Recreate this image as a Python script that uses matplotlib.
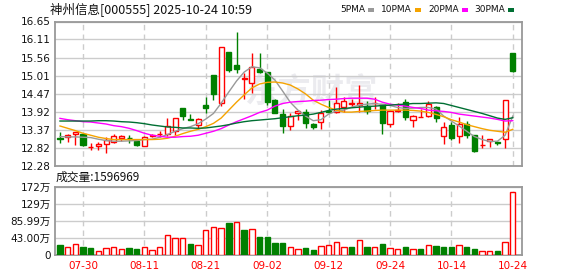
import matplotlib
matplotlib.use("Agg")
import matplotlib.pyplot as plt
from matplotlib.patches import Rectangle

plt.rcParams['font.family'] = ['DejaVu Sans', 'Noto Sans CJK SC']

title = "神州信息[000555] 2025-10-24 10:59"
vol_title = "成交量:1596969"

dates = ["07-25", "07-28", "07-29", "07-30", "07-31", "08-01", "08-04", "08-05",
         "08-06", "08-07", "08-08", "08-11", "08-12", "08-13", "08-14", "08-15",
         "08-18", "08-19", "08-20", "08-21", "08-22", "08-25", "08-26", "08-27",
         "08-28", "08-29", "09-01", "09-02", "09-03", "09-04", "09-05", "09-08",
         "09-09", "09-10", "09-11", "09-12", "09-15", "09-16", "09-17", "09-18",
         "09-19", "09-22", "09-23", "09-24", "09-25", "09-26", "09-29", "09-30",
         "10-09", "10-10", "10-13", "10-14", "10-15", "10-16", "10-17", "10-20",
         "10-21", "10-22", "10-23", "10-24"]
shown_dates = ["07-30", "08-11", "08-21", "09-02", "09-12", "09-24", "10-14", "10-24"]

opens = [13.12, 13.15, 13.24, 13.26, 12.84, 12.89, 12.96, 13.02, 13.13, 13.13,
         13.03, 12.89, 13.19, 13.24, 13.26, 13.33, 14.03, 13.70, 13.52, 14.11,
         15.03, 14.20, 15.73, 15.33, 14.92, 14.80, 15.21, 15.12, 14.27, 13.84,
         13.49, 13.89, 13.91, 13.54, 13.60, 13.95, 13.92, 14.07, 14.17, 14.12,
         14.09, 14.18, 14.17, 13.54, 13.95, 14.23, 13.67, 13.77, 13.79, 14.05,
         13.18, 13.51, 13.18, 13.55, 13.21, 12.91, 13.04, 13.00, 13.11, 15.70]
highs = [13.31, 13.26, 13.31, 13.28, 12.99, 13.00, 13.17, 13.24, 13.22, 13.21,
         13.03, 13.19, 13.24, 13.35, 13.73, 13.73, 14.03, 13.84, 13.73, 14.36,
         15.03, 15.88, 15.73, 16.32, 15.08, 15.71, 15.71, 15.12, 14.30, 13.99,
         13.87, 13.97, 13.99, 13.58, 13.97, 14.27, 14.68, 14.37, 14.32, 14.73,
         14.24, 14.37, 14.17, 13.97, 14.19, 14.30, 13.82, 14.00, 14.24, 14.08,
         13.62, 13.62, 13.77, 13.64, 13.21, 13.21, 13.11, 13.04, 14.27, 15.70]
lows = [12.98, 13.01, 12.91, 12.88, 12.76, 12.76, 12.67, 12.99, 13.04, 12.99,
        12.88, 12.89, 13.15, 13.16, 13.18, 13.23, 13.67, 13.66, 13.39, 13.88,
        14.27, 14.10, 15.13, 15.10, 14.30, 14.50, 15.08, 14.13, 13.88, 13.28,
        13.36, 13.67, 13.44, 13.41, 13.40, 13.87, 13.89, 13.92, 14.07, 13.92,
        13.85, 13.99, 13.26, 13.45, 13.92, 13.66, 13.45, 13.76, 13.76, 13.61,
        12.94, 13.06, 12.98, 13.14, 12.70, 12.81, 12.86, 12.90, 12.81, 15.11]
closes = [13.10, 13.23, 13.30, 12.93, 12.85, 12.94, 13.06, 13.18, 13.19, 13.12,
          12.91, 13.15, 13.23, 13.25, 13.50, 13.72, 13.80, 13.68, 13.69, 14.03,
          14.46, 15.87, 15.18, 15.21, 14.93, 15.27, 15.11, 14.22, 13.89, 13.48,
          13.80, 13.95, 13.57, 13.46, 13.89, 13.91, 14.19, 14.24, 14.18, 14.19,
          13.95, 14.19, 13.57, 13.95, 13.97, 13.75, 13.78, 13.77, 14.17, 13.72,
          13.45, 13.13, 13.55, 13.23, 12.74, 12.92, 13.10, 12.98, 14.27, 15.16]
prev_close = 13.18

ma5 = [13.17, 13.16, 13.16, 13.15, 13.14, 13.09, 13.05, 13.03, 13.03, 13.04,
       13.05, 13.08, 13.09, 13.15, 13.23, 13.33, 13.41, 13.47, 13.56, 13.70,
       13.87, 14.18, 14.52, 14.85, 15.12, 15.28, 15.25, 15.09, 14.88, 14.55,
       14.21, 13.97, 13.79, 13.65, 13.68, 13.85, 13.94, 13.97, 14.06, 14.12,
       14.15, 14.17, 14.14, 14.11, 14.05, 14.02, 14.03, 14.05, 14.05, 14.00,
       13.79, 13.64, 13.49, 13.33, 13.17, 13.08, 13.02, 13.03, 13.21, 13.79]
ma10 = [13.49, 13.42, 13.35, 13.27, 13.21, 13.15, 13.11, 13.08, 13.08, 13.08,
        13.08, 13.08, 13.08, 13.09, 13.12, 13.18, 13.26, 13.33, 13.39, 13.47,
        13.57, 13.73, 13.97, 14.21, 14.43, 14.64, 14.76, 14.81, 14.82, 14.79,
        14.73, 14.61, 14.46, 14.27, 14.15, 14.05, 13.97, 13.91, 13.91, 13.93,
        13.94, 13.96, 13.97, 13.97, 13.97, 13.97, 13.96, 13.94, 13.90, 13.84,
        13.77, 13.68, 13.61, 13.53, 13.47, 13.41, 13.36, 13.33, 13.30, 13.39]
ma20 = [13.72, 13.68, 13.65, 13.62, 13.61, 13.58, 13.55, 13.50, 13.47, 13.42,
        13.35, 13.27, 13.21, 13.18, 13.15, 13.15, 13.17, 13.18, 13.21, 13.27,
        13.33, 13.41, 13.52, 13.62, 13.71, 13.80, 13.90, 13.97, 14.09, 14.17,
        14.21, 14.23, 14.24, 14.26, 14.27, 14.29, 14.30, 14.32, 14.33, 14.33,
        14.33, 14.30, 14.21, 14.15, 14.12, 14.09, 14.05, 14.02, 13.97, 13.95,
        13.93, 13.90, 13.85, 13.82, 13.79, 13.76, 13.73, 13.69, 13.64, 13.65]
ma30 = [13.64, 13.64, 13.64, 13.64, 13.64, 13.65, 13.65, 13.64, 13.62, 13.61,
        13.59, 13.56, 13.52, 13.49, 13.46, 13.45, 13.43, 13.43, 13.42, 13.43,
        13.46, 13.49, 13.53, 13.58, 13.62, 13.65, 13.67, 13.69, 13.71, 13.74,
        13.77, 13.80, 13.82, 13.85, 13.90, 13.96, 14.00, 14.02, 14.04, 14.06,
        14.08, 14.09, 14.11, 14.12, 14.14, 14.15, 14.17, 14.17, 14.18, 14.19,
        14.17, 14.11, 14.05, 13.99, 13.93, 13.87, 13.80, 13.73, 13.69, 13.74]

# volume in 万
volume = [24.9, 21.5, 29.0, 19.9, 17.4, 11.6, 19.1, 21.5, 16.6, 17.4,
          14.9, 21.5, 14.1, 21.5, 51.4, 43.9, 43.9, 29.0, 26.5, 63.8,
          71.3, 68.8, 82.0, 83.7, 64.6, 66.3, 44.7, 44.7, 29.8, 29.8,
          21.5, 16.6, 17.4, 12.4, 24.0, 26.5, 34.0, 21.5, 19.9, 39.0,
          19.9, 21.5, 27.3, 19.1, 16.6, 19.9, 16.6, 14.9, 25.7, 22.4,
          19.9, 19.9, 25.7, 19.9, 14.9, 11.6, 11.6, 9.9, 34.0, 159.7]

price_ticks = [12.28, 12.82, 13.37, 13.92, 14.47, 15.01, 15.56, 16.11, 16.65]
vol_ticks = [0, 43.00, 85.99, 129, 172]
vol_labels = ["0", "43.00万", "85.99万", "129万", "172万"]

ma_names = ["5PMA", "10PMA", "20PMA", "30PMA"]

RED = "#ff0000"
GREEN = "#008000"
ma_colors = ["#999999", "#f5a300", "#ff00ff", "#006f33"]
GRID = "#cccccc"
FRAME = "#999999"
TXT = "#111111"

W, H = 578, 276


def fx(x):
    return x / W


def fy(y):
    return 1 - y / H


fig = plt.figure(figsize=(W / 100, H / 100), dpi=100)
ax = fig.add_axes([fx(55), fy(166), fx(522) - fx(55), fy(21.5) - fy(166)])
ax2 = fig.add_axes([fx(55), fy(255.3), fx(522) - fx(55), fy(186.7) - fy(255.3)])

n = len(closes)
xs = list(range(n))
tick_idx = [dates.index(d) for d in shown_dates]

for a in (ax, ax2):
    a.set_xlim(-0.65, n + 0.2)
    for s in a.spines.values():
        s.set_color(FRAME)
        s.set_linewidth(1.3)
    a.set_xticks(tick_idx)
    a.grid(axis="x", color=GRID, linestyle=(0, (4, 3)), linewidth=1)
    a.grid(axis="y", color=GRID, linestyle="-", linewidth=1)
    a.set_axisbelow(True)
    a.tick_params(length=0, labelsize=7.5, colors=TXT, pad=3)

# watermark
ax.text(32.7, 14.5, "东方财富", fontsize=24, color="#ebebef", fontweight="bold",
        ha="center", va="center", zorder=0.5, family=["Noto Sans CJK SC"])

# candles
bw = 0.66
for i in xs:
    o, h, l, c = opens[i], highs[i], lows[i], closes[i]
    col = RED if c >= o else GREEN
    ax.vlines(i, l, h, color=col, linewidth=1, zorder=3)
    face = "white" if c >= o else GREEN
    ax.add_patch(Rectangle((i - bw / 2, min(o, c)), bw, abs(c - o),
                           facecolor=face, edgecolor=col, linewidth=1, zorder=4))

for vals, colr in zip([ma5, ma10, ma20, ma30], ma_colors):
    ax.plot(xs, vals, color=colr, linewidth=1, zorder=5)

ax.set_ylim(price_ticks[0], price_ticks[-1])
ax.set_yticks(price_ticks)
ax.set_yticklabels(["%.2f" % v for v in price_ticks])
ax.tick_params(axis="x", labelbottom=False)

# volume
prevs = [prev_close] + closes[:-1]
for i in xs:
    up = closes[i] >= prevs[i]
    col = RED if up else GREEN
    ax2.bar(i, volume[i], width=0.7, facecolor="white" if up else GREEN,
            edgecolor=col, linewidth=1, zorder=3)
ax2.set_ylim(0, 172)
ax2.set_yticks(vol_ticks)
ax2.set_yticklabels(vol_labels)
ax2.set_xticklabels(shown_dates, color=RED)
ax2.tick_params(axis="x", labelcolor=RED, pad=4)

# header texts
fig.text(fx(50), fy(10), title, fontsize=9, color=TXT, va="center", ha="left",
         family=["Noto Sans CJK SC", "DejaVu Sans"])
fig.text(fx(56), fy(177), vol_title, fontsize=8.5, color=TXT, va="center", ha="left",
         family=["Noto Sans CJK SC", "DejaVu Sans"])

leg_x = [340, 381, 428, 474]
for name, colr, lx in zip(ma_names, ma_colors, leg_x):
    t = fig.text(fx(lx), fy(10), name, fontsize=6.5, color=TXT, va="center", ha="left")
    fig.canvas.draw()
    bb = t.get_window_extent()
    sq_x = bb.x1 / W + 3 / W
    fig.patches.append(Rectangle((sq_x, fy(12)), 6 / W, 4 / H, transform=fig.transFigure,
                                 facecolor=colr, edgecolor="none"))

fig.savefig("out.png", dpi=100)
